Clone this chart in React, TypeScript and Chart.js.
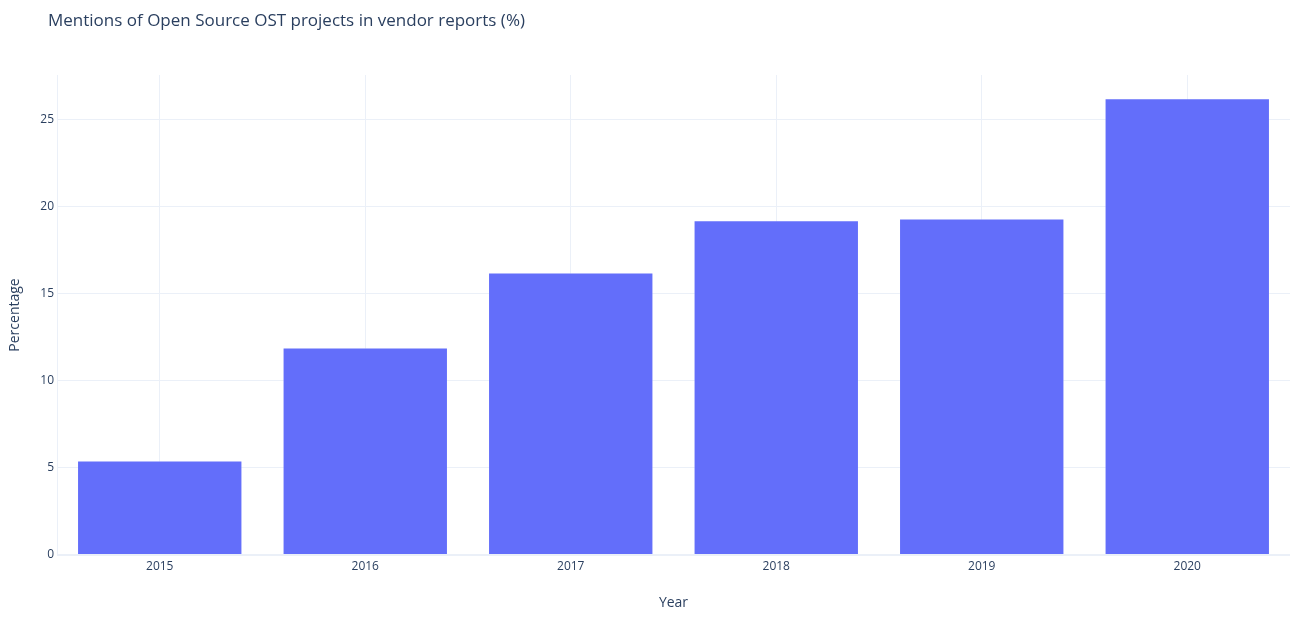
import { useEffect, useRef } from 'react'
import { Chart, registerables } from 'chart.js'

Chart.register(...registerables)

const years = ['2015', '2016', '2017', '2018', '2019', '2020']
const percentages = [5.4, 11.88, 16.18, 19.18, 19.28, 26.18]
const titleText = 'Mentions of Open Source OST projects in vendor reports (%)'

const FONT = '"Open Sans", sans-serif'
const TEXT = '#2a3f5f'
const GRID = '#EBF0F8'

export default function App() {
  const chartRef = useRef<HTMLCanvasElement | null>(null)

  useEffect(() => {
    document.body.style.margin = '0'
    let chartInstance: Chart<'bar', number[], string> | null = null
    if (chartRef.current) {
      chartInstance = new Chart(chartRef.current, {
        type: 'bar',
        data: {
          labels: years,
          datasets: [
            {
              data: percentages,
              backgroundColor: '#636efa',
              borderColor: 'rgba(255,255,255,0.5)',
              borderWidth: 0.5,
              barPercentage: 0.8,
              categoryPercentage: 1,
            },
          ],
        },
        options: {
          animation: false,
          responsive: false,
          maintainAspectRatio: false,
          layout: { padding: { top: 75, right: 12, bottom: 0, left: 0 } },
          plugins: {
            legend: { display: false },
            tooltip: { enabled: false },
          },
          scales: {
            x: {
              offset: true,
              grid: { color: GRID, drawTicks: false, offset: false },
              border: { display: false },
              ticks: { color: TEXT, font: { family: FONT, size: 12 }, padding: 4 },
              title: {
                display: true,
                text: 'Year',
                color: TEXT,
                font: { family: FONT, size: 14 },
                padding: { top: 0, bottom: 9 },
              },
              afterFit: (s: any) => {
                s.height = 65
              },
            },
            y: {
              min: 0,
              max: 27.54,
              grid: {
                color: (ctx: any) =>
                  ctx.tick && Number(ctx.tick.value) % 5 === 0 ? GRID : 'rgba(0,0,0,0)',
                lineWidth: (ctx: any) => (ctx.tick && ctx.tick.value === 0 ? 2 : 1),
                drawTicks: false,
              },
              border: { display: true, color: GRID, width: 1 },
              ticks: {
                stepSize: 5,
                color: TEXT,
                font: { family: FONT, size: 12 },
                padding: 3,
                callback: (v: any) => (Number(v) % 5 === 0 ? String(v) : ''),
              },
              title: {
                display: true,
                text: 'Percentage',
                color: TEXT,
                font: { family: FONT, size: 14 },
                padding: { top: 7, bottom: 0 },
              },
              afterFit: (s: any) => {
                s.width = 57
              },
            },
          },
        },
      })
    }
    return () => {
      if (chartInstance) chartInstance.destroy()
    }
  }, [])

  return (
    <div style={{ position: 'relative', width: 1302, height: 620, background: '#fff' }}>
      <div
        style={{
          position: 'absolute',
          left: 48,
          top: 10,
          fontFamily: FONT,
          fontSize: 17,
          lineHeight: '19px',
          color: TEXT,
          whiteSpace: 'nowrap',
        }}
      >
        {titleText}
      </div>
      <canvas ref={chartRef} width={1302} height={620} style={{ display: 'block' }} />
    </div>
  )
}
